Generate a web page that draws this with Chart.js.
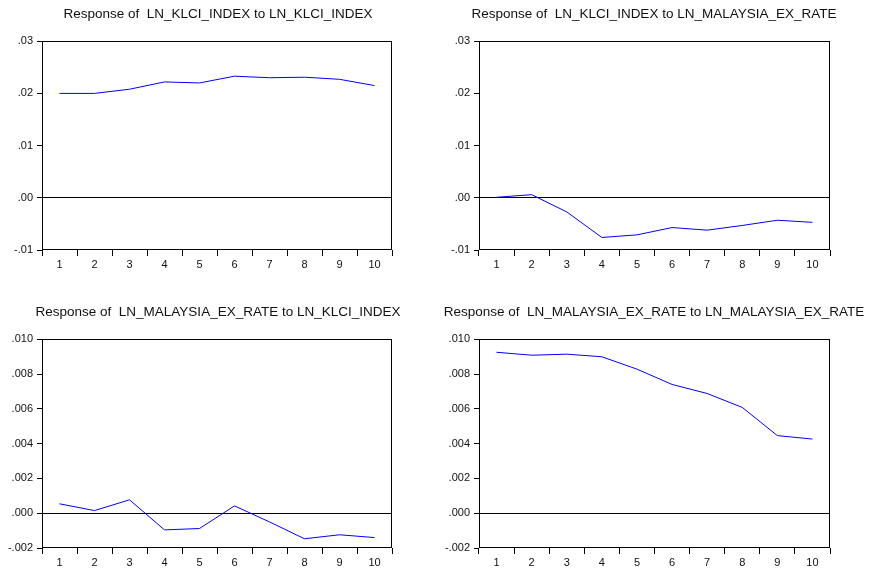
<!DOCTYPE html>
<html>
<head>
<meta charset="utf-8">
<script src="https://cdn.jsdelivr.net/npm/chart.js@4.4.0/dist/chart.umd.min.js"></script>
<style>
  html, body { margin:0; padding:0; background:#fff; overflow:hidden; }
  .pn { position:absolute; }
</style>
</head>
<body>
<div class="pn" style="left:0;top:0"><canvas id="c1" width="436" height="285"></canvas></div>
<div class="pn" style="left:436px;top:0"><canvas id="c2" width="436" height="285"></canvas></div>
<div class="pn" style="left:0;top:298px"><canvas id="c3" width="436" height="273"></canvas></div>
<div class="pn" style="left:436px;top:298px"><canvas id="c4" width="436" height="273"></canvas></div>
<script>
// ── impulse responses, periods 1..10 ──
const periods = ['1','2','3','4','5','6','7','8','9','10'];
const klciToKlci = [0.0200, 0.0200, 0.0208, 0.0222, 0.0220, 0.0233, 0.0230, 0.0231, 0.0227, 0.0215];
const klciToFx   = [0.0001, 0.0006, -0.0027, -0.0076, -0.0071, -0.0057, -0.0062, -0.0053, -0.0043, -0.0047];
const fxToKlci   = [0.00054, 0.00015, 0.00077, -0.00096, -0.00088, 0.00042, -0.00050, -0.00147, -0.00124, -0.00140];
const fxToFx     = [0.00925, 0.00908, 0.00914, 0.00899, 0.00828, 0.00740, 0.00688, 0.00608, 0.00446, 0.00426];

// y axis tick values
const yTicksKlci = [-0.01, 0.00, 0.01, 0.02, 0.03];
const yTicksFx   = [-0.002, 0.000, 0.002, 0.004, 0.006, 0.008, 0.010];

const FONT = "'Liberation Sans', Arial, sans-serif";

// plot frame (EViews style box)
const framePlugin = {
  id: 'frame',
  afterDatasetsDraw(chart) {
    const a = chart.chartArea, c = chart.ctx;
    c.save();
    c.strokeStyle = '#000'; c.lineWidth = 1;
    c.strokeRect(Math.round(a.left) + 0.5, Math.round(a.top) + 0.5,
                 Math.round(a.right - a.left) - 1, Math.round(a.bottom - a.top) - 1);
    c.restore();
  }
};

function irfChart(id, title, vals, yTicks, dec, yW, padR, xH) {
  const el = document.getElementById(id);
  return new Chart(el.getContext('2d'), {
    type: 'line',
    data: { labels: periods, datasets: [{ data: vals, borderColor: '#0000ff', borderWidth: 1, pointRadius: 0, tension: 0, fill: false }] },
    options: {
      responsive: false, animation: false,
      layout: { padding: 0 },
      plugins: {
        legend: { display: false }, tooltip: { enabled: false },
        // full-width title so long titles are not squeezed into the plot width
        title: { display: true, text: title, fullSize: true, color: '#111',
                 font: { family: FONT, size: 13.5, weight: 'normal', lineHeight: 1.2 }, padding: { top: 6, bottom: 19 } }
      },
      scales: {
        x: {
          offset: true,
          grid: { offset: true, drawOnChartArea: false, tickLength: 6, color: '#000' },
          border: { display: false },
          ticks: { color: '#111', font: { family: FONT, size: 11 }, padding: 2, maxRotation: 0 },
          afterFit: s => { s.height = xH; }
        },
        y: {
          min: yTicks[0], max: yTicks[yTicks.length - 1],
          afterBuildTicks: s => { s.ticks = yTicks.map(v => ({ value: v })); },
          grid: { tickLength: 5, tickColor: '#000',
                  color: c => (c.tick && Math.abs(c.tick.value) < 1e-12) ? '#000' : 'rgba(0,0,0,0)' },
          border: { display: false },
          ticks: { color: '#111', font: { family: FONT, size: 11 }, padding: 4,
                   callback: v => Number(v).toFixed(dec).replace('0.', '.') },
          afterFit: s => { s.width = yW; }
        },
        // empty right axis, only reserves the right margin
        yR: {
          type: 'linear', position: 'right',
          grid: { display: false }, border: { display: false }, ticks: { display: false },
          afterFit: s => { s.width = padR; }
        }
      }
    },
    plugins: [framePlugin]
  });
}

irfChart('c1', 'Response of  LN_KLCI_INDEX to LN_KLCI_INDEX', klciToKlci, yTicksKlci, 2, 42, 44, 35);
irfChart('c2', 'Response of  LN_KLCI_INDEX to LN_MALAYSIA_EX_RATE', klciToFx, yTicksKlci, 2, 43, 42, 35);
irfChart('c3', 'Response of  LN_MALAYSIA_EX_RATE to LN_KLCI_INDEX', fxToKlci, yTicksFx, 3, 42, 44, 23);
irfChart('c4', 'Response of  LN_MALAYSIA_EX_RATE to LN_MALAYSIA_EX_RATE', fxToFx, yTicksFx, 3, 43, 42, 23);
</script>
</body>
</html>
